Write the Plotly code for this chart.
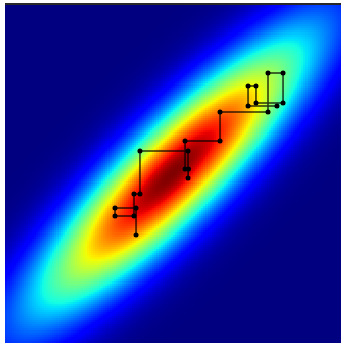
import numpy as np
import plotly.graph_objects as go

# Distribution parameters (bivariate normal)
mean_x = 0.0
mean_y = 0.0
sd = 0.99
rho = 0.88
grid_n = 170
grid_lim = 1.85

# Gibbs sampling path (data units)
path_x = [-0.396, -0.396, -0.621, -0.621, -0.418, -0.418, -0.354, -0.354,
          0.161, 0.161, 0.166, 0.129, 0.129, 0.504, 0.504, 1.018, 1.018,
          1.179, 1.179, 0.889, 0.889, 0.804, 0.804, 1.114]
path_y = [-0.659, -0.370, -0.370, -0.455, -0.455, -0.220, -0.220, 0.241,
          0.241, -0.048, 0.048, 0.048, 0.348, 0.348, 0.659, 0.659, 1.077,
          1.077, 0.755, 0.755, 0.938, 0.938, 0.723, 0.723]

x_range = [-1.8, 1.8]
y_range = [-1.816, 1.816]

# density grid
gx = np.linspace(-grid_lim, grid_lim, grid_n)
gy = np.linspace(-grid_lim, grid_lim, grid_n)
X, Y = np.meshgrid(gx, gy)
dx = (X - mean_x) / sd
dy = (Y - mean_y) / sd
q = (dx**2 - 2 * rho * dx * dy + dy**2) / (1 - rho**2)
Z = np.exp(-0.5 * q) / (2 * np.pi * sd**2 * np.sqrt(1 - rho**2))

# matplotlib-style jet colorscale
rx, rv = [0, 0.35, 0.66, 0.89, 1], [0, 0, 1, 1, 0.5]
gxk, gv = [0, 0.125, 0.375, 0.64, 0.91, 1], [0, 0, 1, 1, 0, 0]
bx, bv = [0, 0.11, 0.34, 0.65, 1], [0.5, 1, 1, 0, 0]
stops = sorted(set(rx + gxk + bx))
jet = []
for s in stops:
    r = np.interp(s, rx, rv)
    g = np.interp(s, gxk, gv)
    b = np.interp(s, bx, bv)
    jet.append([s, f"rgb({int(round(r*255))},{int(round(g*255))},{int(round(b*255))})"])

fig = go.Figure()
fig.add_trace(go.Heatmap(x=gx, y=gy, z=Z, colorscale=jet, zmin=0, zmax=Z.max(),
                         showscale=False, zsmooth=False, hoverinfo="skip"))
fig.add_trace(go.Scatter(x=path_x, y=path_y, mode="lines",
                         line=dict(color="rgba(0,0,0,0.8)", width=1.5),
                         hoverinfo="skip", showlegend=False))
fig.add_trace(go.Scatter(x=path_x, y=path_y, mode="markers",
                         marker=dict(color="black", size=5),
                         hoverinfo="skip", showlegend=False))

fig.update_xaxes(range=x_range, visible=False, showgrid=False, zeroline=False)
fig.update_yaxes(range=y_range, visible=False, showgrid=False, zeroline=False)
fig.add_shape(type="line", xref="paper", yref="paper", x0=0, x1=1, y0=1, y1=1,
              line=dict(color="rgb(40,40,40)", width=2))
fig.update_layout(width=341, height=343, autosize=False,
                  margin=dict(l=5, r=0, t=4, b=0), paper_bgcolor="white",
                  plot_bgcolor="white", showlegend=False)
fig.write_html("out.html", config={"displayModeBar": False},
               post_script="document.body.style.margin='0';document.body.style.overflow='hidden';")
